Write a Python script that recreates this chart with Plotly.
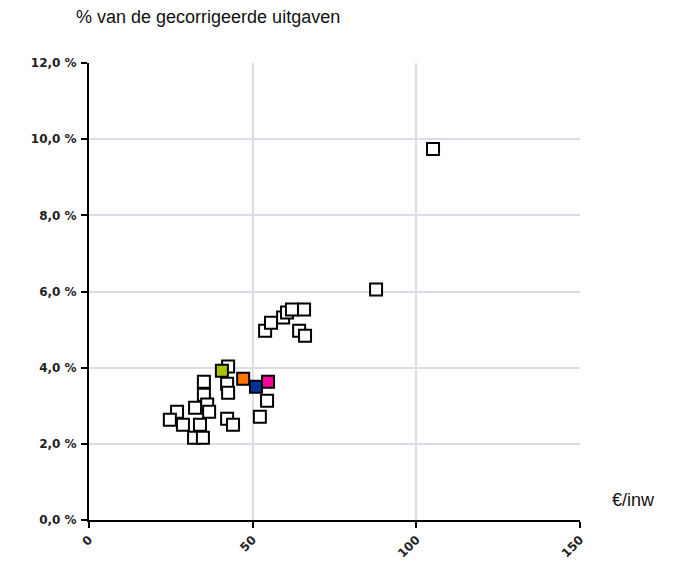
import plotly.graph_objects as go

# Uitgaven per inwoner (€/inw) en aandeel in de gecorrigeerde uitgaven (%)
overige_x = [53.8, 55.6, 59.3, 60.5, 62.0, 65.7, 64.2, 66.0,
             105.1, 87.7,
             42.5, 54.4, 52.2, 35.1, 42.2, 42.5, 35.1, 36.1, 32.4, 26.9,
             24.7, 28.7, 33.9, 32.1, 34.8, 36.7, 42.2, 44.0]
overige_y = [4.97, 5.18, 5.32, 5.45, 5.53, 5.53, 4.97, 4.84,
             9.74, 6.05,
             4.03, 3.13, 2.71, 3.63, 3.58, 3.34, 3.29, 3.03, 2.95, 2.84,
             2.63, 2.50, 2.50, 2.16, 2.16, 2.84, 2.66, 2.50]

uitgelicht_x = [40.6, 47.1, 51.0, 54.7]
uitgelicht_y = [3.92, 3.71, 3.50, 3.63]
uitgelicht_kleur = ["#aac400", "#ff7700", "#003399", "#ff0099"]

x_ticks = [0, 50, 100, 150]
y_ticks = [0, 2, 4, 6, 8, 10, 12]
y_labels = ["0,0 %", "2,0 %", "4,0 %", "6,0 %", "8,0 %", "10,0 %", "12,0 %"]

tick_font = dict(family="DejaVu Sans", size=12, color="#222222", weight="bold")
text_font = dict(family="Liberation Sans, Arial", size=18, color="#111111")
grid_color = "#dcdce8"

fig = go.Figure()

fig.add_trace(go.Scatter(
    x=overige_x, y=overige_y, mode="markers",
    marker=dict(symbol="square", size=12, color="white",
                line=dict(color="black", width=2)),
    showlegend=False, hoverinfo="x+y",
))

for xv, yv, kleur in zip(uitgelicht_x, uitgelicht_y, uitgelicht_kleur):
    fig.add_trace(go.Scatter(
        x=[xv], y=[yv], mode="markers",
        marker=dict(symbol="square", size=12, color=kleur,
                    line=dict(color="black", width=2)),
        showlegend=False, hoverinfo="x+y",
    ))

fig.update_xaxes(
    range=[x_ticks[0], x_ticks[-1]],
    tickvals=x_ticks, ticktext=[str(v) for v in x_ticks],
    tickangle=-45, ticks="outside", ticklen=6, tickwidth=2, tickcolor="black",
    showgrid=True, gridcolor=grid_color, gridwidth=2,
    zeroline=False, showline=True, linecolor="black", linewidth=2,
    tickfont=tick_font, automargin=False,
)
fig.update_yaxes(
    range=[y_ticks[0], y_ticks[-1]],
    tickvals=y_ticks, ticktext=y_labels,
    ticks="outside", ticklen=6, tickwidth=2, tickcolor="black",
    showgrid=True, gridcolor=grid_color, gridwidth=2,
    zeroline=False, showline=True, linecolor="black", linewidth=2,
    tickfont=tick_font, ticklabelstandoff=2, automargin=False,
)

fig.add_annotation(text="% van de gecorrigeerde uitgaven", xref="paper", yref="paper",
                   x=-0.0305, y=1.1007, xanchor="left", yanchor="middle",
                   showarrow=False, font=text_font)
fig.add_annotation(text="€/inw", xref="paper", yref="paper",
                   x=1.061, y=0.0438, xanchor="left", yanchor="middle",
                   showarrow=False, font=text_font)

fig.update_layout(
    width=674, height=561,
    margin=dict(l=89, r=94, t=63, b=41, autoexpand=False),
    plot_bgcolor="white", paper_bgcolor="white",
)

fig.write_html("out.html")
